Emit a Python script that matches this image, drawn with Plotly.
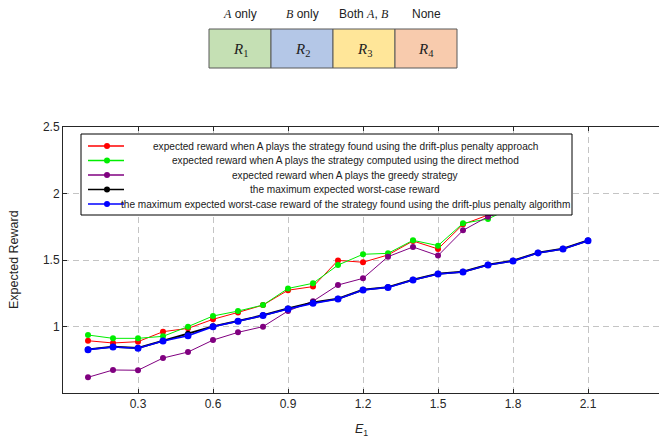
import plotly.graph_objects as go

# ---------------- data ----------------
E1 = [0.1, 0.2, 0.3, 0.4, 0.5, 0.6, 0.7, 0.8, 0.9, 1.0, 1.1,
      1.2, 1.3, 1.4, 1.5, 1.6, 1.7, 1.8, 1.9, 2.0, 2.1]
E1_short = E1[:18]

drift_plus = [0.893, 0.876, 0.886, 0.961, 0.986, 1.054, 1.106, 1.161, 1.273,
              1.300, 1.497, 1.483, 1.538, 1.643, 1.583, 1.768, 1.838, 1.92]
direct = [0.936, 0.911, 0.911, 0.926, 0.999, 1.079, 1.116, 1.161, 1.286,
          1.325, 1.462, 1.543, 1.550, 1.648, 1.608, 1.776, 1.808, 1.90]
greedy = [0.618, 0.673, 0.671, 0.763, 0.808, 0.898, 0.956, 0.999, 1.117,
          1.190, 1.312, 1.362, 1.525, 1.598, 1.533, 1.723, 1.826, 1.88]
max_worst = [0.828, 0.848, 0.838, 0.893, 0.945, 1.001, 1.041, 1.084, 1.135,
             1.180, 1.209, 1.276, 1.296, 1.352, 1.397, 1.412, 1.464, 1.494,
             1.555, 1.585, 1.647]
max_worst_dpp = [0.826, 0.846, 0.836, 0.891, 0.931, 0.999, 1.039, 1.082, 1.132,
                 1.174, 1.207, 1.274, 1.294, 1.350, 1.395, 1.410, 1.462, 1.492,
                 1.553, 1.583, 1.645]

series_names = [
    "expected reward when A plays the strategy found using the drift-plus penalty approach",
    "expected reward when A plays the strategy computed using the direct method",
    "expected reward when A plays the greedy strategy",
    "the maximum expected worst-case reward",
    "the maximum expected worst-case reward of the strategy found using the drift-plus penalty algorithm",
]
series_colors = ["#ff0000", "#00ee00", "#800080", "#000000", "#0000ff"]

x_ticks = [0.3, 0.6, 0.9, 1.2, 1.5, 1.8, 2.1]
x_tick_labels = ["0.3", "0.6", "0.9", "1.2", "1.5", "1.8", "2.1"]
y_ticks = [1, 1.5, 2, 2.5]
y_tick_labels = ["1", "1.5", "2", "2.5"]

SERIF_A = "<span style='font-family:Liberation Serif'><i>A</i></span>"
SERIF_B = "<span style='font-family:Liberation Serif'><i>B</i></span>"
region_headers = [SERIF_A + " only", SERIF_B + " only",
                  "Both " + SERIF_A + ", " + SERIF_B, "None"]
region_labels = ["<i>R</i><sub>1</sub>", "<i>R</i><sub>2</sub>", "<i>R</i><sub>3</sub>", "<i>R</i><sub>4</sub>"]
region_colors = ["#c5e0b4", "#b4c7e7", "#ffe699", "#f8cbad"]

# ---------------- layout geometry (pixels) ----------------
FW, FH = 659, 439
PL, PR, PT, PB = 63, 659, 127, 393
PW, PH = PR - PL, PB - PT


def px(x):
    return (x - PL) / PW


def py(y):
    return (PB - y) / PH


fig = go.Figure()

ys = [drift_plus, direct, greedy, max_worst, max_worst_dpp]
xs = [E1_short, E1_short, E1_short, E1, E1]
widths = [1, 1, 1, 2, 1.6]
msizes = [6, 6, 6, 6, 7]
for xv, yv, name, col, w, ms in zip(xs, ys, series_names, series_colors, widths, msizes):
    fig.add_trace(go.Scatter(x=xv, y=yv, mode="lines+markers", name=name,
                             line=dict(color=col, width=w),
                             marker=dict(color=col, size=ms),
                             showlegend=False))

shapes = []
annotations = []

# ---------- custom legend (centered text, opaque box) ----------
LX0, LX1, LY0, LY1 = 81, 572, 134, 215
shapes.append(dict(type="rect", xref="paper", yref="paper", layer="above",
                   x0=px(LX0), x1=px(LX1), y0=py(LY1), y1=py(LY0),
                   fillcolor="white", line=dict(color="#000000", width=1)))
row_y = [146, 160.5, 175, 189.5, 204]
for i, (name, col) in enumerate(zip(series_names, series_colors)):
    yy = py(row_y[i])
    shapes.append(dict(type="line", xref="paper", yref="paper", layer="above",
                       x0=px(88), x1=px(124), y0=yy, y1=yy,
                       line=dict(color=col, width=1.5)))
    shapes.append(dict(type="circle", xref="paper", yref="paper", layer="above",
                       xsizemode="pixel", ysizemode="pixel",
                       xanchor=px(107), yanchor=yy,
                       x0=-3, x1=3, y0=-3, y1=3,
                       fillcolor=col, line=dict(color=col, width=0)))
    annotations.append(dict(xref="paper", yref="paper", x=px(345), y=yy,
                            text=name, showarrow=False, xanchor="center",
                            yanchor="middle",
                            font=dict(family="Liberation Sans", size=10.1, color="#1a1a1a")))

# ---------- region boxes on top ----------
bx = [209, 271, 333, 395, 457]
for i in range(4):
    shapes.append(dict(type="rect", xref="paper", yref="paper", layer="above",
                       x0=px(bx[i]), x1=px(bx[i + 1]), y0=py(68), y1=py(29),
                       fillcolor=region_colors[i], line=dict(color="#595959", width=1)))
    cx = px((bx[i] + bx[i + 1]) / 2)
    annotations.append(dict(xref="paper", yref="paper", x=cx, y=py(50),
                            text=region_labels[i], showarrow=False,
                            xanchor="center", yanchor="middle",
                            font=dict(family="Liberation Serif", size=15, color="#222222")))
    annotations.append(dict(xref="paper", yref="paper", x=cx, y=py(14),
                            text=region_headers[i], showarrow=False,
                            xanchor="center", yanchor="middle",
                            font=dict(family="Liberation Sans", size=12, color="#222222")))

# ---------- axis titles ----------
annotations.append(dict(xref="paper", yref="paper", x=px(361), y=py(430),
                        text="<i>E</i><sub>1</sub>", showarrow=False,
                        xanchor="center", yanchor="middle",
                        font=dict(family="Liberation Sans", size=12.5, color="#262626")))
annotations.append(dict(xref="paper", yref="paper", x=px(14), y=py(259),
                        text="Expected Reward", showarrow=False, textangle=-90,
                        xanchor="center", yanchor="middle",
                        font=dict(family="Liberation Sans", size=12.5, color="#262626")))

fig.update_layout(
    width=FW, height=FH,
    margin=dict(l=PL, r=FW - PR, t=PT, b=FH - PB, pad=0, autoexpand=False),
    paper_bgcolor="white", plot_bgcolor="white", showlegend=False,
    shapes=shapes, annotations=annotations,
    font=dict(family="Liberation Sans", size=12, color="#262626"),
)
fig.update_xaxes(range=[0, PW / 250.0], tickvals=x_ticks, ticktext=x_tick_labels,
                 showline=True, linecolor="#262626", linewidth=1, mirror="ticks",
                 ticks="inside", ticklen=4, tickcolor="#262626",
                 showgrid=True, gridcolor="#c4c4c4", griddash="6px,4px", gridwidth=1,
                 zeroline=False, tickfont=dict(size=12), automargin=False)
fig.update_yaxes(range=[0.5, 2.5], tickvals=y_ticks, ticktext=y_tick_labels,
                 showline=True, linecolor="#262626", linewidth=1, mirror=False,
                 ticks="inside", ticklen=4, tickcolor="#262626",
                 showgrid=True, gridcolor="#c4c4c4", griddash="6px,4px", gridwidth=1,
                 zeroline=False, tickfont=dict(size=12), automargin=False)

fig.write_html("out.html", config={"displayModeBar": False},
               post_script="document.body.style.margin='0px';document.body.style.overflow='hidden';")
